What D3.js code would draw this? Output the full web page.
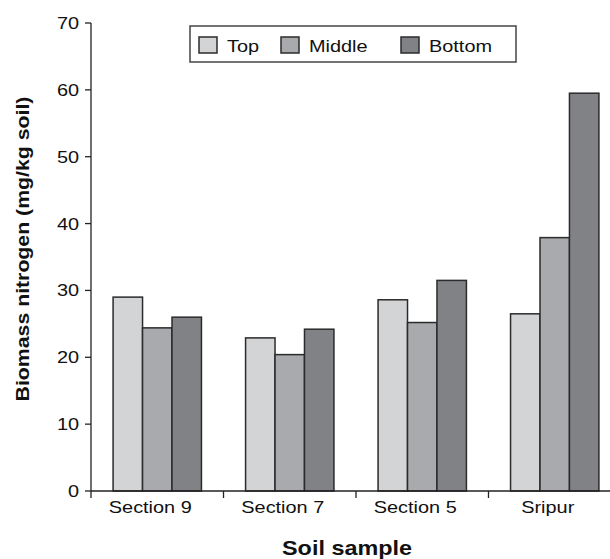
<!DOCTYPE html>
<html>
<head>
<meta charset="utf-8">
<script src="https://cdn.jsdelivr.net/npm/d3@7"></script>
<style>
  html, body { margin: 0; padding: 0; background: #fff; }
  svg { display: block; font-family: "Liberation Sans", Arial, sans-serif; }
</style>
</head>
<body>
<svg id="chart" width="610" height="559"></svg>
<script>
const categories = ["Section 9", "Section 7", "Section 5", "Sripur"];
const seriesNames = ["Top", "Middle", "Bottom"];
const topValues = [29.0, 22.9, 28.6, 26.5];
const middleValues = [24.4, 20.4, 25.2, 37.9];
const bottomValues = [26.0, 24.2, 31.5, 59.5];
const yTicks = [0, 10, 20, 30, 40, 50, 60, 70];
const colors = ["#d3d4d6", "#a9aaad", "#818286"];

(function () {
const seriesValues = [topValues, middleValues, bottomValues];
const table = categories.map((c, i) => ({
  category: c,
  values: seriesNames.map((s, j) => ({ series: s, idx: j, value: seriesValues[j][i] }))
}));

const svg = d3.select("#chart");
const plotLeft = 91, plotRight = 621, plotTop = 23, plotBottom = 491;
const stretch = 1.17;

const x0 = d3.scaleBand().domain(categories).range([plotLeft, plotRight])
  .paddingInner(0.333).paddingOuter(0.1667);
const x1 = d3.scaleBand().domain(seriesNames).range([0, x0.bandwidth()]).padding(0);
const y = d3.scaleLinear().domain([0, 70]).range([plotBottom, plotTop]);
const color = d3.scaleOrdinal().domain(seriesNames).range(colors);

// bars
const groups = svg.append("g").selectAll("g").data(table).join("g")
  .attr("transform", d => `translate(${x0(d.category)},0)`);
groups.selectAll("rect").data(d => d.values).join("rect")
  .attr("x", d => x1(d.series))
  .attr("y", d => y(d.value))
  .attr("width", x1.bandwidth())
  .attr("height", d => y(0) - y(d.value))
  .attr("fill", d => color(d.series))
  .attr("stroke", "#2b2b2b")
  .attr("stroke-width", 1.5);

// y axis
const yAxis = svg.append("g").attr("transform", `translate(${plotLeft},0)`);
yAxis.append("line").attr("x1", 0).attr("x2", 0).attr("y1", y(70)).attr("y2", y(0) + 7)
  .attr("stroke", "#222").attr("stroke-width", 1.3);
yAxis.selectAll("line.tick").data(yTicks).join("line").attr("class", "tick")
  .attr("x1", -6).attr("x2", 0).attr("y1", d => y(d)).attr("y2", d => y(d))
  .attr("stroke", "#222").attr("stroke-width", 1.3);
yAxis.selectAll("text").data(yTicks).join("text")
  .attr("transform", d => `translate(-12,${y(d) + 6}) scale(${stretch},1)`)
  .attr("text-anchor", "end")
  .attr("font-size", 17)
  .attr("fill", "#111")
  .text(d => d);

// x axis
const xAxis = svg.append("g");
xAxis.append("line").attr("x1", plotLeft).attr("x2", 610).attr("y1", y(0)).attr("y2", y(0))
  .attr("stroke", "#222").attr("stroke-width", 1.3);
const boundaries = categories.slice(1).map(c => x0(c) - x0.step() * x0.paddingInner() / 2);
xAxis.selectAll("line.tick").data(boundaries).join("line").attr("class", "tick")
  .attr("x1", d => d).attr("x2", d => d).attr("y1", y(0)).attr("y2", y(0) + 7)
  .attr("stroke", "#222").attr("stroke-width", 1.3);
xAxis.selectAll("text").data(categories).join("text")
  .attr("transform", d => `translate(${x0(d) + x0.bandwidth() / 2 - 7},${y(0) + 22}) scale(${stretch},1)`)
  .attr("text-anchor", "middle")
  .attr("font-size", 17)
  .attr("fill", "#111")
  .text(d => d);

// axis titles
svg.append("text")
  .attr("transform", `translate(347,555) scale(${stretch},1)`)
  .attr("text-anchor", "middle")
  .attr("font-size", 20)
  .attr("font-weight", "bold")
  .attr("fill", "#111")
  .text("Soil sample");
svg.append("text")
  .attr("transform", `translate(29,249) rotate(-90) scale(1.15,1)`)
  .attr("text-anchor", "middle")
  .attr("font-size", 18.5)
  .attr("font-weight", "bold")
  .attr("fill", "#111")
  .text("Biomass nitrogen (mg/kg soil)");

// legend
const legend = svg.append("g");
legend.append("rect").attr("x", 190).attr("y", 26).attr("width", 326).attr("height", 36)
  .attr("fill", "#fff").attr("stroke", "#444").attr("stroke-width", 1.5);
const legX = [199, 281, 401];
const legItems = legend.selectAll("g.item").data(seriesNames).join("g").attr("class", "item")
  .attr("transform", (d, i) => `translate(${legX[i]},37)`);
legItems.append("rect").attr("width", 18).attr("height", 16)
  .attr("fill", d => color(d)).attr("stroke", "#2b2b2b").attr("stroke-width", 1.5);
legItems.append("text")
  .attr("transform", `translate(28,14.5) scale(${stretch},1)`)
  .attr("font-size", 17)
  .attr("fill", "#111")
  .text(d => d);
})();
</script>
</body>
</html>
